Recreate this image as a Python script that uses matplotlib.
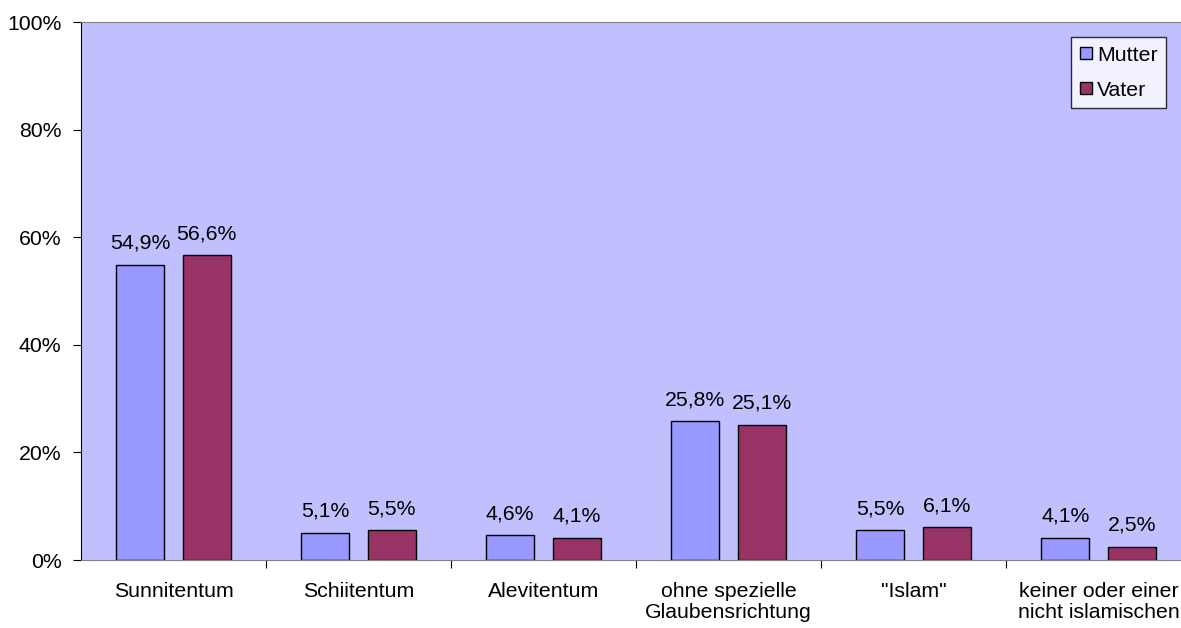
import matplotlib.pyplot as plt
import numpy as np

categories = ["Sunnitentum", "Schiitentum", "Alevitentum",
              "ohne spezielle\nGlaubensrichtung", "\"Islam\"",
              "keiner oder einer\nnicht islamischen"]
mutter = [54.9, 5.1, 4.6, 25.8, 5.5, 4.1]
vater = [56.6, 5.5, 4.1, 25.1, 6.1, 2.5]
series_names = ["Mutter", "Vater"]
yticks = [0, 20, 40, 60, 80, 100]

plt.rcParams['font.family'] = ['Liberation Sans', 'DejaVu Sans']
fs = 15.3

fig = plt.figure(figsize=(11.81, 6.28), dpi=100)
ax = fig.add_axes([81 / 1181, 1 - 560 / 628, 1110 / 1181, 538 / 628])
ax.set_facecolor('#C0C0FF')

x = np.arange(len(categories))
w = 0.26
off = 0.18
b1 = ax.bar(x - off, mutter, w, color='#9999FF', edgecolor='black', linewidth=1, label=series_names[0])
b2 = ax.bar(x + off, vater, w, color='#993366', edgecolor='black', linewidth=1, label=series_names[1])

# value labels above the bars
for bars, vals in [(b1, mutter), (b2, vater)]:
    for rect, v in zip(bars, vals):
        ax.annotate(f"{v:.1f}%".replace('.', ','),
                    (rect.get_x() + rect.get_width() / 2, v),
                    xytext=(0, 15.5), textcoords='offset points',
                    ha='center', va='center', fontsize=fs)

ax.set_xlim(-0.5, len(categories) - 0.5)
ax.set_ylim(0, 100)
ax.set_yticks(yticks)
ax.set_yticklabels([f"{t}%" for t in yticks], fontsize=fs)

ax.set_xticks(np.arange(len(categories) - 1) + 0.5)
ax.set_xticklabels([])
ax.set_xticks(x, minor=True)
ax.set_xticklabels(categories, minor=True, fontsize=fs, linespacing=1.15)
ax.tick_params(axis='x', which='minor', length=0, pad=16)
ax.tick_params(axis='both', which='major', length=6, direction='out', color='black')
ax.tick_params(axis='y', pad=8)

ax.spines['top'].set_color('#808080')
ax.spines['right'].set_visible(False)
ax.spines['left'].set_color('black')
ax.spines['bottom'].set_color('#808080')

leg = ax.legend(loc='upper right', bbox_to_anchor=(0.9775, 0.972), fontsize=fs,
                frameon=True, fancybox=False, edgecolor='black', borderpad=0.4,
                handlelength=0.55, handleheight=0.55, handletextpad=0.25, labelspacing=0.75,
                borderaxespad=0)
leg.get_frame().set_linewidth(1)
leg.get_frame().set_facecolor('white')

fig.savefig("out.png", dpi=100)
